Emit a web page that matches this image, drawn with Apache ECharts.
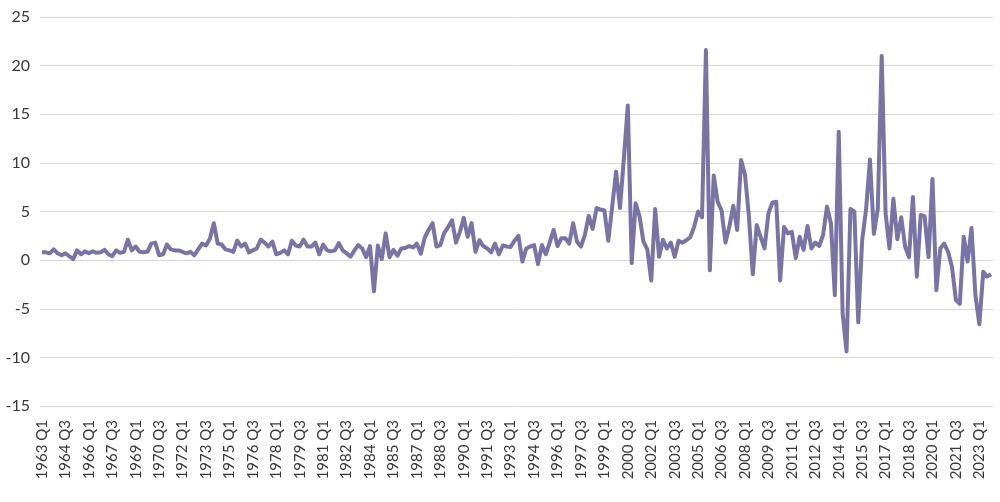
<!DOCTYPE html>
<html>
<head>
<meta charset="utf-8">
<script src="https://cdn.jsdelivr.net/npm/echarts@6/dist/echarts.min.js"></script>
<style>
  html, body { margin: 0; padding: 0; background: #fff; }
  #chart { width: 1000px; height: 502px; }
</style>
</head>
<body>
<div id="chart"></div>
<script>
// quarterly labels, 1963 Q1 .. 2023 Q4
const firstYear = 1963;
const lastYear = 2023;
const quarters = [];
for (let y = firstYear; y <= lastYear; y++) {
    for (let q = 1; q <= 4; q++) quarters.push(y + " Q" + q);
}

// values, 20 quarters per row
const values = [
    0.8, 0.8, 0.7, 1.1, 0.7, 0.5, 0.7, 0.4, 0.1, 1.0, 0.6, 0.9, 0.7, 0.9, 0.75, 0.8, 1.05, 0.6, 0.4, 1.0,
    0.75, 0.85, 2.1, 1.0, 1.4, 0.85, 0.8, 0.85, 1.7, 1.8, 0.5, 0.6, 1.6, 1.1, 1.0, 1.0, 0.85, 0.7, 0.85, 0.5,
    1.1, 1.7, 1.5, 2.2, 3.8, 1.7, 1.6, 1.1, 1.0, 0.85, 2.0, 1.4, 1.7, 0.8, 1.0, 1.2, 2.1, 1.8, 1.4, 1.9,
    0.6, 0.75, 1.0, 0.6, 2.0, 1.5, 1.4, 2.1, 1.4, 1.4, 1.8, 0.6, 1.6, 1.0, 0.9, 1.0, 1.75, 1.0, 0.7, 0.35,
    1.0, 1.55, 1.2, 0.3, 1.45, -3.2, 1.5, 0.1, 2.75, 0.3, 1.05, 0.45, 1.2, 1.25, 1.45, 1.3, 1.7, 0.65, 2.3, 3.1,
    3.8, 1.4, 1.55, 2.8, 3.4, 4.1, 1.8, 2.9, 4.35, 2.4, 3.8, 0.85, 2.05, 1.45, 1.2, 0.8, 1.7, 0.6, 1.5, 1.4,
    1.35, 2.0, 2.5, -0.15, 1.2, 1.4, 1.55, -0.4, 1.55, 0.6, 1.8, 3.1, 1.45, 2.25, 2.25, 1.7, 3.8, 1.9, 1.4, 2.6,
    4.55, 3.2, 5.35, 5.2, 5.1, 2.0, 5.5, 9.1, 5.35, 10.5, 15.9, -0.3, 5.85, 4.5, 1.9, 1.1, -2.1, 5.25, 0.35, 2.1,
    1.2, 1.8, 0.35, 2.0, 1.8, 2.05, 2.35, 3.45, 5.0, 4.4, 21.6, -1.05, 8.7, 6.0, 5.1, 1.8, 3.45, 5.6, 3.1, 10.3,
    8.8, 4.5, -1.45, 3.6, 2.4, 1.2, 4.8, 5.9, 6.0, -2.1, 3.4, 2.75, 2.9, 0.2, 2.4, 1.05, 3.5, 1.2, 1.8, 1.45,
    2.6, 5.5, 3.8, -3.6, 13.2, -5.5, -9.4, 5.25, 5.0, -6.4, 2.05, 5.2, 10.35, 2.7, 5.25, 21.0, 4.8, 1.2, 6.3, 2.15,
    4.4, 1.4, 0.3, 6.5, -1.7, 4.65, 4.5, 0.3, 8.35, -3.1, 1.2, 1.7, 0.85, -0.7, -4.1, -4.5, 2.4, -0.15, 3.3, -3.6,
    -6.6, -1.2, -1.7, -1.45
];

const yMin = -15;
const yMax = 25;
const yStep = 5;

let chart = echarts.init(document.getElementById("chart"));
chart.setOption({
    animation: false,
    grid: { left: 40, right: 7, top: 17, bottom: 96 },
    xAxis: {
        type: "category",
        data: quarters,
        boundaryGap: true,
        axisLine: { show: false },
        axisTick: { show: false },
        axisLabel: {
            interval: 5,
            rotate: 90,
            margin: 14,
            color: "#383838",
            fontFamily: "Lato",
            fontSize: 15
        }
    },
    yAxis: {
        type: "value",
        min: yMin,
        max: yMax,
        interval: yStep,
        axisLine: { show: false },
        axisTick: { show: false },
        axisLabel: { color: "#383838", fontFamily: "Lato", fontSize: 16, margin: 10 },
        splitLine: { lineStyle: { color: "#d6d6d6", width: 1 } }
    },
    series: [{
        type: "line",
        data: values,
        showSymbol: false,
        lineStyle: { color: "#7a74a6", width: 4, join: "round" }
    }]
});
</script>
</body>
</html>
